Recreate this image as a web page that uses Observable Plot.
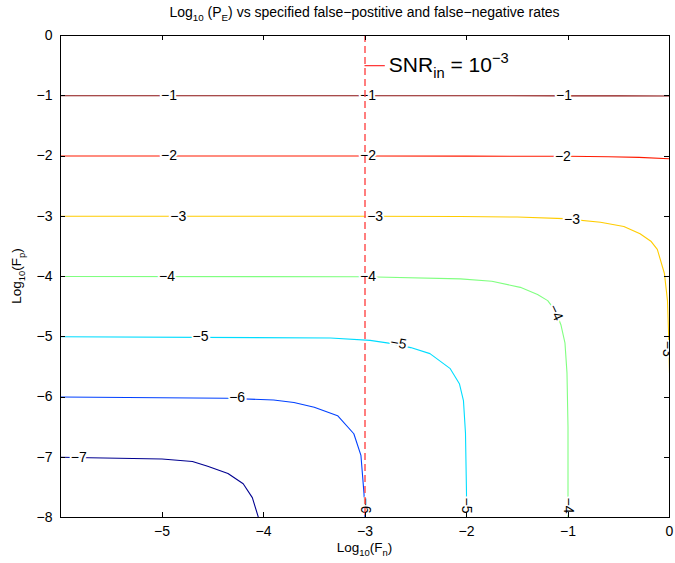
<!DOCTYPE html>
<html><head><meta charset="utf-8">
<script src="https://cdn.jsdelivr.net/npm/d3@7"></script>
<script src="https://cdn.jsdelivr.net/npm/@observablehq/plot@0.6"></script>
<style>body{margin:0;background:#fff;} svg{font-family:"Liberation Sans",Arial,sans-serif;}</style>
</head><body><div id="chart"></div>
<script>
// Contour levels of log10(P_E) and their colours
const levels = [-1, -2, -3, -4, -5, -6, -7];
const levelColors = ["#8a1010", "#ff1a00", "#ffcc00", "#80ff80", "#00ddff", "#0040ff", "#000090"];

// Contour paths [log10(Fn), log10(Fp)]
const lvlM1 = [[-6,-1],[-4,-1],[-2,-1],[-1,-1.002],[-0.5,-1.002],[0,-1.004]];
const lvlM2 = [[-6,-2],[-3,-2],[-2,-2.002],[-1,-2.005],[-0.6,-2.012],[-0.3,-2.022],[0,-2.045]];
const lvlM3 = [[-6,-3],[-3,-3],[-2.06,-3.004],[-1.5,-3.013],[-1.04,-3.04],[-0.68,-3.1],[-0.45,-3.17],[-0.29,-3.29],[-0.18,-3.42],[-0.12,-3.55],[-0.05,-3.95],[-0.02,-4.4],[-0.008,-5.0],[0,-5.6]];
const lvlM4 = [[-6,-4],[-3,-4.004],[-2.06,-4.04],[-1.75,-4.08],[-1.47,-4.18],[-1.3,-4.3],[-1.2,-4.4],[-1.12,-4.58],[-1.07,-4.8],[-1.03,-5.1],[-1.01,-5.6],[-1.0,-6.5],[-1.0,-8]];
const lvlM5 = [[-6,-5],[-3.34,-5.02],[-2.95,-5.06],[-2.75,-5.11],[-2.55,-5.18],[-2.36,-5.28],[-2.16,-5.53],[-2.07,-5.78],[-2.03,-6.06],[-2.01,-6.6],[-2.0,-7.6],[-2.0,-8]];
const lvlM6 = [[-6,-6],[-4.36,-6.02],[-3.9,-6.05],[-3.7,-6.09],[-3.5,-6.17],[-3.27,-6.31],[-3.11,-6.61],[-3.04,-6.97],[-3.01,-7.6],[-3.0,-8]];
const lvlM7 = [[-6,-7],[-5.0,-7.03],[-4.7,-7.07],[-4.55,-7.15],[-4.35,-7.27],[-4.2,-7.44],[-4.11,-7.67],[-4.05,-8]];
const contourPaths = [lvlM1, lvlM2, lvlM3, lvlM4, lvlM5, lvlM6, lvlM7];

// Inline contour labels
const labelLevel = [-1, -1, -1, -2, -2, -2, -3, -3, -3, -4, -4, -4, -5, -5, -5, -6, -6, -7, -4, -3];
const labelX     = [-4.93, -2.97, -1.04, -4.93, -2.97, -1.05, -4.84, -2.9, -0.96, -4.95, -2.97, -1.12, -4.62, -2.67, -2.0, -4.26, -3.0, -5.82, -1.0, -0.02];
const labelY     = [-1, -1, -1, -2, -2, -2.01, -3, -3, -3.05, -4, -4, -4.6, -5, -5.11, -7.8, -6.01, -7.8, -7, -7.8, -5.2];
const labelAngle = [0, 0, 0, 0, 0, 0, 0, 0, 0, 0, 0, 65, 0, 10, 90, 0, 90, 0, 90, 90];

// Reference line SNR_in = 10^-3 at log10(Fn) = -3
const snrX = [-3];
const legendY = -0.5;
const legendX = [-3, -2.8];

const xTicks = [-5, -4, -3, -2, -1, 0];
const yTicks = [0, -1, -2, -3, -4, -5, -6, -7, -8];

const fmt = d => d < 0 ? "\u2212" + (-d) : String(d);

const lineRows = contourPaths.flatMap((p, i) => p.map(([x, y]) => ({x, y, level: levels[i]})));
const labelRows = labelLevel.map((l, i) => ({level: l, x: labelX[i], y: labelY[i], rot: labelAngle[i], txt: fmt(l)}));

const plot = Plot.plot({
  width: 675, height: 563,
  marginTop: 35, marginBottom: 46, marginLeft: 60, marginRight: 6,
  style: {fontFamily: '"Liberation Sans", Arial, sans-serif', fontSize: "14px", color: "#000", background: "#fff"},
  x: {domain: [-6, 0]},
  y: {domain: [-8, 0]},
  color: {type: "ordinal", domain: levels, range: levelColors},
  marks: [
    Plot.line(lineRows, {x: "x", y: "y", z: "level", stroke: "level", strokeWidth: 1.1, clip: true}),
    Plot.text(labelRows, {x: "x", y: "y", text: "txt", rotate: "rot", fill: "black", stroke: "white", strokeWidth: 4, fontSize: 14, textAnchor: "middle", lineAnchor: "middle", clip: true}),
    Plot.ruleX(snrX, {stroke: "#ff3a3a", strokeWidth: 1.3, strokeDasharray: "7,4"}),
    Plot.ruleY([legendY], {x1: legendX[0], x2: legendX[1], stroke: "#ff3a3a", strokeWidth: 1.3}),
    Plot.frame({stroke: "black"}),
    Plot.axisX(xTicks, {anchor: "bottom", tickSize: 0, tickPadding: 9, tickFormat: fmt, label: null, fontSize: 14}),
    Plot.axisY(yTicks, {anchor: "left", tickSize: 0, tickPadding: 8, tickFormat: fmt, label: null, fontSize: 14})
  ]
});

document.getElementById("chart").appendChild(plot);

const sx = plot.scale("x"), sy = plot.scale("y");
const svg = d3.select(plot);
const frameL = sx.apply(-6), frameR = sx.apply(0), frameT = sy.apply(0), frameB = sy.apply(-8);

// Inward ticks on all four sides, placed with the plot's scales
const tk = svg.append("g").attr("stroke", "black").attr("stroke-width", 1);
for (const v of xTicks) {
  const px = Math.round(sx.apply(v)) + 0.5;
  tk.append("line").attr("x1", px).attr("x2", px).attr("y1", frameB).attr("y2", frameB - 5);
  tk.append("line").attr("x1", px).attr("x2", px).attr("y1", frameT).attr("y2", frameT + 5);
}
for (const v of yTicks) {
  const py = Math.round(sy.apply(v)) + 0.5;
  tk.append("line").attr("y1", py).attr("y2", py).attr("x1", frameL).attr("x2", frameL + 5);
  tk.append("line").attr("y1", py).attr("y2", py).attr("x1", frameR).attr("x2", frameR - 5);
}

// Rich text (sub/superscripts)
function rich(g, parts, size, anchor) {
  const t = g.append("text").attr("font-size", size).attr("fill", "black").attr("text-anchor", anchor);
  let shift = 0;
  for (const p of parts) {
    const s = (p.sub || p.sup) ? size * 0.7 : size;
    const target = p.sub ? size * 0.3 : p.sup ? -size * 0.42 : 0;
    t.append("tspan").attr("font-size", s).attr("dy", target - shift).text(p.t);
    shift = target;
  }
  return t;
}
const cx = (frameL + frameR) / 2;
const cy = (frameT + frameB) / 2;

rich(svg.append("g").attr("transform", `translate(${cx},17)`),
  [{t: "Log"}, {t: "10", sub: true}, {t: " (P"}, {t: "E", sub: true}, {t: ") vs specified false\u2212postitive and false\u2212negative rates"}], 14, "middle");

rich(svg.append("g").attr("transform", `translate(${cx},552)`),
  [{t: "Log"}, {t: "10", sub: true}, {t: "(F"}, {t: "n", sub: true}, {t: ")"}], 13.5, "middle");

rich(svg.append("g").attr("transform", `translate(21,${cy}) rotate(-90)`),
  [{t: "Log"}, {t: "10", sub: true}, {t: "(F"}, {t: "p", sub: true}, {t: ")"}], 13.5, "middle");

rich(svg.append("g").attr("transform", `translate(${sx.apply(legendX[1]) + 4},${sy.apply(legendY) + 7})`),
  [{t: "SNR"}, {t: "in", sub: true}, {t: " = 10"}, {t: "\u22123", sup: true}], 21, "start");
</script>
</body></html>
